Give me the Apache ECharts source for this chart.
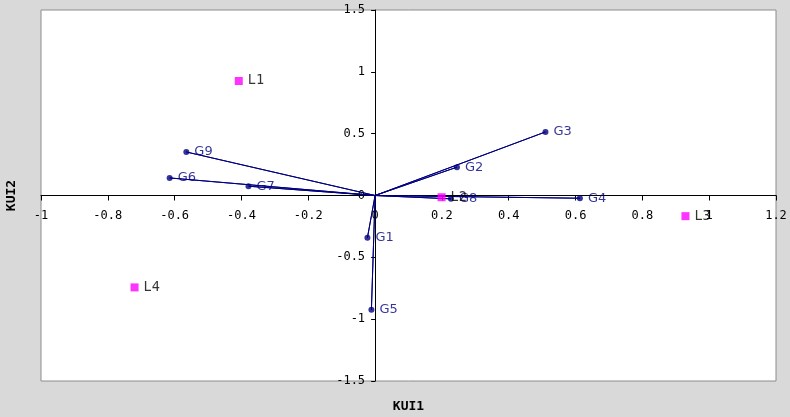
<!DOCTYPE html>
<html>
<head>
<meta charset="utf-8">
<script src="https://cdn.jsdelivr.net/npm/echarts@6/dist/echarts.min.js"></script>
<style>
  html, body { margin: 0; padding: 0; background: #d9d9d9; }
  #chart { width: 790px; height: 417px; }
</style>
</head>
<body>
<div id="chart"></div>
<script>
// Genotype scores (KUI1, KUI2)
const genotypes = ['G1', 'G2', 'G3', 'G4', 'G5', 'G6', 'G7', 'G8', 'G9'];
const genoKUI1 = [-0.023, 0.245, 0.510, 0.613, -0.011, -0.615, -0.379, 0.227, -0.565];
const genoKUI2 = [-0.342, 0.229, 0.514, -0.022, -0.924, 0.142, 0.075, -0.027, 0.352];

// Location scores (KUI1, KUI2)
const locations = ['L1', 'L2', 'L3', 'L4'];
const locKUI1 = [-0.408, 0.199, 0.929, -0.720];
const locKUI2 = [0.926, -0.014, -0.167, -0.743];

// Axis tick labels
const xTickLabels = ['-1', '-0.8', '-0.6', '-0.4', '-0.2', '0', '0.2', '0.4', '0.6', '0.8', '1', '1.2'];
const yTickLabels = ['-1.5', '-1', '-0.5', '0', '0.5', '1', '1.5'];

const xMin = -1, xMax = 1.2, xStep = 0.2;
const yMin = -1.5, yMax = 1.5, yStep = 0.5;

const MONO = '"DejaVu Sans Mono", monospace';
const SANS = '"DejaVu Sans", sans-serif';
const NAVY = '#000080';

// Plot area in pixels
const GRID = { left: 41, top: 10, width: 735, height: 371 };
// Both axes cross at the origin: shift them into the plot by the origin's offset
const xAxisShift = -GRID.height * (0 - yMin) / (yMax - yMin);
const yAxisShift = -GRID.width * (0 - xMin) / (xMax - xMin);

// Vectors from the origin to each genotype, drawn as one polyline
const vectorPath = [];
genotypes.forEach((g, i) => {
  vectorPath.push([0, 0]);
  vectorPath.push([genoKUI1[i], genoKUI2[i]]);
});
vectorPath.push([0, 0]);

const genoPoints = genotypes.map((g, i) => ({ name: g, value: [genoKUI1[i], genoKUI2[i]] }));
const locPoints = locations.map((l, i) => ({ name: l, value: [locKUI1[i], locKUI2[i]] }));

const chart = echarts.init(document.getElementById('chart'), null, { renderer: 'canvas' });

chart.setOption({
  backgroundColor: '#d9d9d9',
  animation: false,
  grid: {
    left: GRID.left, top: GRID.top, width: GRID.width, height: GRID.height,
    show: true,
    backgroundColor: '#ffffff',
    borderColor: '#8c8c8c',
    borderWidth: 1
  },
  xAxis: {
    type: 'value',
    position: 'bottom',
    offset: xAxisShift,
    min: xMin, max: xMax, interval: xStep,
    axisLine: { onZero: false, lineStyle: { color: '#000', width: 1 } },
    axisTick: { show: true, length: 5, lineStyle: { color: '#000' } },
    axisLabel: {
      margin: 14,
      color: '#000',
      fontFamily: MONO,
      fontSize: 12,
      formatter: v => xTickLabels[Math.round((v - xMin) / xStep)]
    },
    splitLine: { show: false }
  },
  yAxis: {
    type: 'value',
    position: 'left',
    offset: yAxisShift,
    min: yMin, max: yMax, interval: yStep,
    axisLine: { onZero: false, lineStyle: { color: '#000', width: 1 } },
    axisTick: { show: true, length: 4, lineStyle: { color: '#000' } },
    axisLabel: {
      margin: 10,
      color: '#000',
      fontFamily: MONO,
      fontSize: 12,
      formatter: v => yTickLabels[Math.round((v - yMin) / yStep)]
    },
    splitLine: { show: false }
  },
  graphic: [
    {
      type: 'text', x: 408.5, y: 407,
      style: { text: 'KUI1', font: 'bold 13px ' + MONO, fill: '#000', align: 'center', verticalAlign: 'middle' }
    },
    {
      type: 'text', x: 12, y: 195.5, rotation: Math.PI / 2,
      style: { text: 'KUI2', font: 'bold 13px ' + MONO, fill: '#000', align: 'center', verticalAlign: 'middle' }
    }
  ],
  series: [
    {
      name: 'vectors',
      type: 'line',
      data: vectorPath,
      symbol: 'none',
      lineStyle: { color: NAVY, width: 1 },
      z: 2,
      silent: true
    },
    {
      name: 'genotypes',
      type: 'scatter',
      data: genoPoints,
      symbol: 'circle',
      symbolSize: 6,
      itemStyle: { color: NAVY },
      label: {
        show: true,
        position: 'right',
        distance: 5,
        formatter: p => p.name,
        color: NAVY,
        fontFamily: SANS,
        fontSize: 13
      },
      z: 3
    },
    {
      name: 'locations',
      type: 'scatter',
      data: locPoints,
      symbol: 'rect',
      symbolSize: 8,
      itemStyle: { color: '#ff00ff' },
      label: {
        show: true,
        position: 'right',
        distance: 5,
        formatter: p => p.name,
        color: '#000',
        fontFamily: MONO,
        fontSize: 13.5
      },
      z: 4
    }
  ]
});
</script>
</body>
</html>
